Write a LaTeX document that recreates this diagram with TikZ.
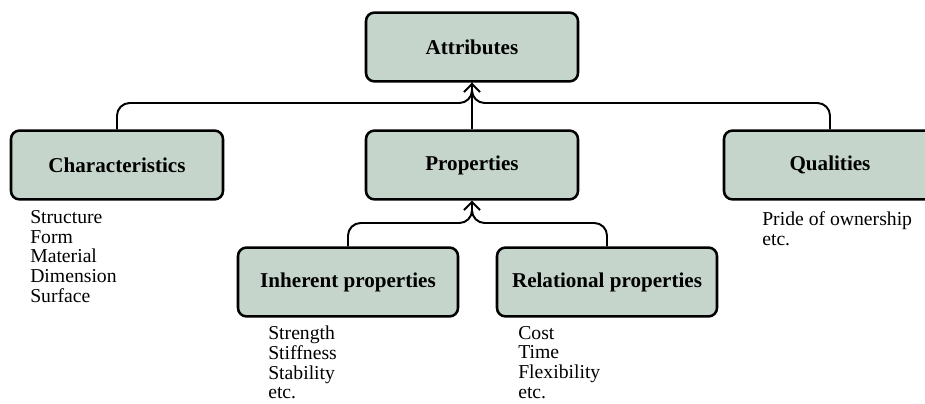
\documentclass[tikz,border=0pt]{standalone}
\usepackage{fontspec}
\setmainfont{Liberation Serif}
\usetikzlibrary{arrows.meta,positioning}
\definecolor{boxgreen}{RGB}{197,213,203}
\tikzstyle{link} = [line width=1.4pt, rounded corners=9pt]
\tikzstyle{uplink} = [line width=1.4pt, -{Straight Barb[length=2mm,width=4mm]}]

\begin{document}
\begin{tikzpicture}[
    group/.style={rectangle, rounded corners=6pt, draw=black, line width=1.8pt, fill=boxgreen, minimum width=5.3cm, minimum height=1.72cm, font=\bfseries\fontsize{15}{18}\selectfont},
    itemlist/.style={anchor=north west, inner sep=0pt, align=left, font=\fontsize{14}{14}\selectfont}]

\useasboundingbox (0,0) rectangle (23.125,10.075);

% Top concept
\node[group] (attr) at (11.8,8.9) {Attributes};

% Second row
\node[group] (chars) at (2.925,5.95) {Characteristics};
\node[group] (props) at (11.8,5.95) {Properties};
\node[group] (quals) at (20.75,5.95) {Qualities};

% Third row
\node[group, minimum width=5.5cm] (inher) at (8.7,3.025) {Inherent properties};
\node[group, minimum width=5.5cm] (relat) at (15.175,3.025) {Relational properties};

% Lists
\node[itemlist] (charslist) at (0.75,4.82) {Structure\\Form\\Material\\Dimension\\Surface};
\node[itemlist] (qualslist) at (19.05,4.78) {Pride of ownership\\etc.};
\node[itemlist] (inherlist) at (6.7,1.93) {Strength\\Stiffness\\Stability\\etc.};
\node[itemlist] (relatlist) at (12.95,1.93) {Cost\\Time\\Flexibility\\etc.};

% Connections
\coordinate (topbus) at (11.8,7.5);
\coordinate (topjoin) at (11.8,8.0);
\draw[link] (chars.north) |- (topbus) -- (topjoin);
\draw[link] (quals.north) |- (topbus) -- (topjoin);
\draw[uplink] (props.north) -- (attr.south);

\coordinate (lowbus) at (11.8,4.5);
\coordinate (lowjoin) at (11.8,4.95);
\draw[link] (inher.north) |- (lowbus) -- (lowjoin);
\draw[link] (relat.north) |- (lowbus) -- (lowjoin);
\draw[uplink] (lowjoin) -- (props.south);
\end{tikzpicture}
\end{document}
